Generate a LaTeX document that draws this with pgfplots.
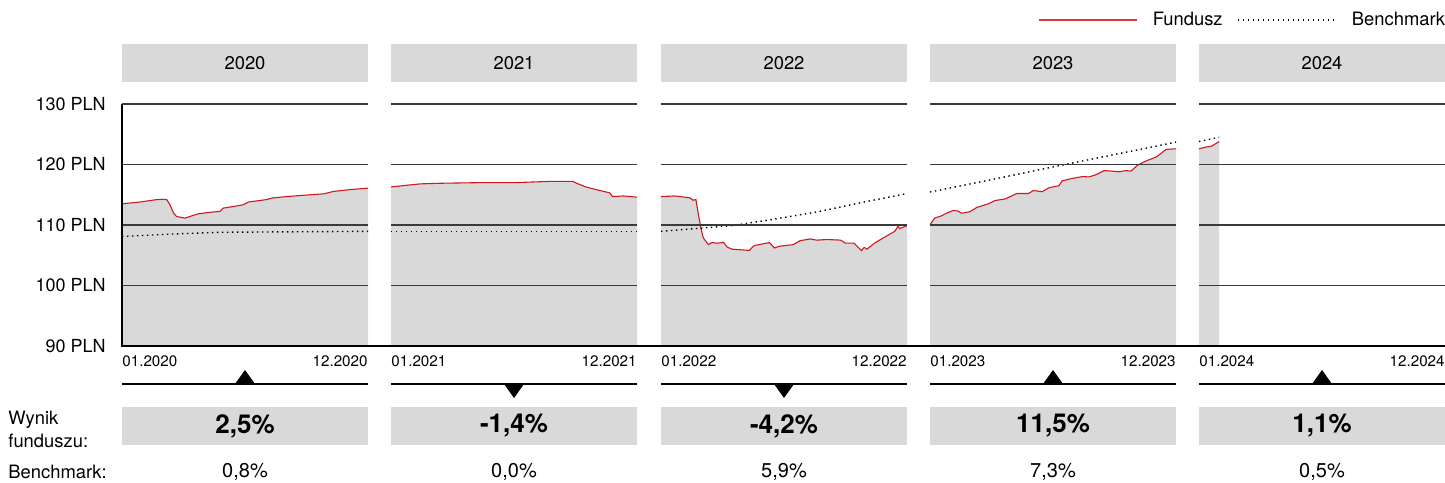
\documentclass[border=0pt]{standalone}
\usepackage{pgfplots}
\pgfplotsset{compat=1.18}
\usepackage{pgfplotstable}
\usepackage{fontspec}
\setmainfont{TeX Gyre Heros}
\definecolor{fillgray}{HTML}{D9D9D9}
\definecolor{fundred}{HTML}{D0191F}
\definecolor{gridc}{HTML}{3A3A3A}

\pgfdeclareplotmark{tup}{\pgfpathmoveto{\pgfqpoint{-5pt}{0pt}}\pgfpathlineto{\pgfqpoint{5pt}{0pt}}\pgfpathlineto{\pgfqpoint{0pt}{7pt}}\pgfpathclose\pgfusepathqfill}
\pgfdeclareplotmark{tdown}{\pgfpathmoveto{\pgfqpoint{-5pt}{0pt}}\pgfpathlineto{\pgfqpoint{5pt}{0pt}}\pgfpathlineto{\pgfqpoint{0pt}{-7pt}}\pgfpathclose\pgfusepathqfill}

% fund values (t = fraction of year)
\pgfplotstableread{
t v
0 113.5
0.073 113.8
0.141 114.2
0.161 114.25
0.182 114.2
0.195 113.35
0.209 112.0
0.222 111.4
0.256 111.15
0.31 111.85
0.358 112.1
0.398 112.25
0.412 112.8
0.453 113.05
0.493 113.35
0.514 113.8
0.588 114.2
0.609 114.45
0.669 114.7
0.75 114.95
0.82 115.15
0.859 115.55
0.927 115.85
1.0 116.1
}\fundA
\pgfplotstableread{
t v
0 116.3
0.12 116.8
0.2 116.9
0.36 117.0
0.5 117.0
0.64 117.2
0.74 117.2
0.755 116.9
0.795 116.25
0.84 115.8
0.89 115.3
0.90 114.7
0.945 114.8
1.0 114.6
}\fundB
\pgfplotstableread{
t v
0 114.7
0.055 114.8
0.117 114.5
0.13 114.1
0.142 114.2
0.151 112.0
0.162 109.5
0.172 107.85
0.193 106.75
0.207 107.1
0.227 107.0
0.255 107.1
0.269 106.35
0.289 106.0
0.358 105.8
0.379 106.6
0.441 107.1
0.461 106.2
0.482 106.5
0.537 106.75
0.565 107.4
0.606 107.7
0.633 107.5
0.675 107.6
0.73 107.5
0.75 107.0
0.785 107.0
0.815 105.75
0.826 106.3
0.837 106.0
0.868 107.0
0.909 108.0
0.95 108.95
0.964 109.8
0.97 109.4
1.0 109.9
}\fundC
\pgfplotstableread{
t v
0 110.05
0.019 111.15
0.046 111.5
0.067 111.95
0.094 112.4
0.115 112.3
0.128 111.95
0.162 112.2
0.19 112.9
0.237 113.5
0.265 114.05
0.305 114.3
0.353 115.2
0.40 115.2
0.42 115.7
0.456 115.5
0.483 116.15
0.524 116.5
0.537 117.3
0.578 117.7
0.619 118.0
0.646 117.95
0.674 118.3
0.708 119.0
0.742 118.9
0.769 118.8
0.797 119.0
0.817 118.9
0.844 119.9
0.879 120.6
0.92 121.25
0.96 122.5
1.0 122.6
}\fundD
\pgfplotstableread{
t v
0 122.6
0.03 122.9
0.05 123.0
0.082 123.8
}\fundE
% benchmark values
\pgfplotstableread{
t v
0 108.1
0.2 108.5
0.4 108.8
1 108.95
}\benchA
\pgfplotstableread{
t v
0 108.9
1 108.9
}\benchB
\pgfplotstableread{
t v
0 108.95
0.29 109.9
0.45 110.9
0.633 112.15
0.826 113.8
1 115.2
}\benchC
\pgfplotstableread{
t v
0 115.45
0.25 117.5
0.5 119.6
0.75 121.65
1 123.7
}\benchD
\pgfplotstableread{
t v
0 123.8
0.082 124.5
}\benchE

\pgfplotsset{
  panel/.style={
    anchor=south west, width=123pt, height=121pt, scale only axis,
    xmin=0, xmax=1, ymin=90, ymax=130,
    ytick={90,100,110,120,130}, yticklabels={},
    ymajorgrids, grid style={gridc, line width=0.65pt},
    axis line style={draw=none}, major tick length=0pt,
    axis on top, clip=false,
    xtick={0}, extra x ticks={1},
    xticklabel style={inner sep=0pt, anchor=north west, yshift=-4.8pt, font=\fontsize{7.6}{9}\selectfont},
    extra x tick style={xticklabel style={anchor=north east}},
    yticklabel style={inner sep=0pt, anchor=east, xshift=-8pt, font=\fontsize{9}{11}\selectfont},
  },
  fundfill/.style={fill=fillgray, draw=none},
  fundline/.style={fundred, line width=0.55pt},
  bench/.style={black, line width=0.7pt, dash pattern=on 0.7pt off 1.8pt},
}

\begin{document}
\begin{tikzpicture}[x=0.5pt,y=0.5pt]
\path[use as bounding box] (0,0) rectangle (1445,482);
% headers, result boxes
\foreach \xx/\yr/\res/\bm in {122/2020/{2,5\%}/{0,8\%}, 391/2021/{-1,4\%}/{0,0\%}, 661/2022/{-4,2\%}/{5,9\%}, 930/2023/{11,5\%}/{7,3\%}, 1199/2024/{1,1\%}/{0,5\%}}{
  \fill[fillgray] (\xx,400) rectangle ++(246,38);
  \node[font=\fontsize{9.2}{11}\selectfont] at (\xx+123,419) {\yr};
  \fill[fillgray] (\xx,37) rectangle ++(246,38);
  \node[font=\fontsize{13}{15}\selectfont\bfseries] at (\xx+123,56) {\res};
  \node[font=\fontsize{10}{12}\selectfont] at (\xx+123,10) {\bm};
  \draw[line width=0.8pt] (\xx,98) -- ++(246,0);
}
\node[anchor=west, inner sep=0pt, font=\fontsize{9.2}{11}\selectfont] at (8,62) {Wynik};
\node[anchor=west, inner sep=0pt, font=\fontsize{9.2}{11}\selectfont] at (8,41) {funduszu:};
\node[anchor=west, inner sep=0pt, font=\fontsize{9.2}{11}\selectfont] at (8,10) {Benchmark:};

\begin{axis}[panel, at={(61pt,68pt)}, xticklabels={01.2020}, extra x tick labels={12.2020},
  yticklabels={90 PLN,100 PLN,110 PLN,120 PLN,130 PLN}]
\addplot[fundfill] table {\fundA} \closedcycle;
\addplot[fundline] table {\fundA};
\addplot[bench] table {\benchA};
\addplot[only marks, mark=tup] coordinates {(0.5,83.72)};
\end{axis}

\begin{axis}[panel, at={(195.5pt,68pt)}, xticklabels={01.2021}, extra x tick labels={12.2021}]
\addplot[fundfill] table {\fundB} \closedcycle;
\addplot[fundline] table {\fundB};
\addplot[bench] table {\benchB};
\addplot[only marks, mark=tdown] coordinates {(0.5,83.72)};
\end{axis}

\begin{axis}[panel, at={(330.5pt,68pt)}, xticklabels={01.2022}, extra x tick labels={12.2022}]
\addplot[fundfill] table {\fundC} \closedcycle;
\addplot[fundline] table {\fundC};
\addplot[bench] table {\benchC};
\addplot[only marks, mark=tdown] coordinates {(0.5,83.72)};
\end{axis}

\begin{axis}[panel, at={(465pt,68pt)}, xticklabels={01.2023}, extra x tick labels={12.2023}]
\addplot[fundfill] table {\fundD} \closedcycle;
\addplot[fundline] table {\fundD};
\addplot[bench] table {\benchD};
\addplot[only marks, mark=tup] coordinates {(0.5,83.72)};
\end{axis}

\begin{axis}[panel, at={(599.5pt,68pt)}, xticklabels={01.2024}, extra x tick labels={12.2024},
  legend columns=-1,
  legend image code/.code={\draw[#1] (0pt,0pt) -- (49pt,0pt);},
  legend style={draw=none, fill=none, at={(1,1)}, anchor=east, yshift=42pt,
    inner sep=0pt, outer sep=0pt, nodes={inner sep=0pt},
    font=\fontsize{9.2}{11}\selectfont,
    /tikz/every odd column/.style={column sep=7.5pt},
    /tikz/every even column/.style={column sep=7.5pt}}]
\addplot[fundfill, forget plot] table {\fundE} \closedcycle;
\addplot[fundline, forget plot] table {\fundE};
\addplot[bench, forget plot] table {\benchE};
\addplot[only marks, mark=tup, forget plot] coordinates {(0.5,83.72)};
\addlegendimage{fundred!85, line width=0.55pt}
\addlegendentry{Fundusz}
\addlegendimage{black, line width=0.6pt, dash pattern=on 0.6pt off 1.9pt}
\addlegendentry{Benchmark}
\end{axis}

\draw[line width=1pt] (122,378) -- (122,136) -- (1445,136);
\end{tikzpicture}
\end{document}
